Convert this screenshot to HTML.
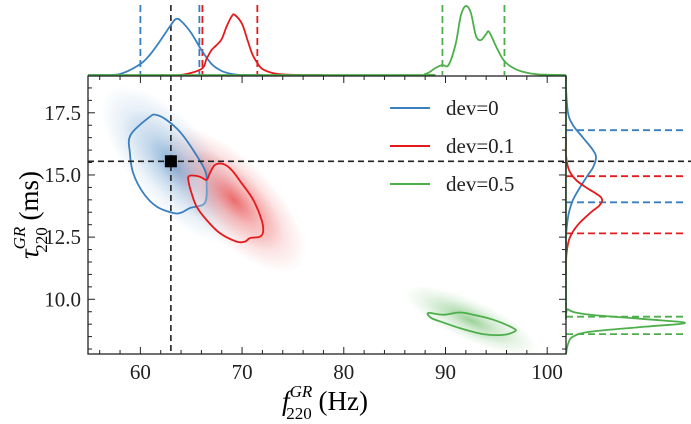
<!DOCTYPE html>
<html><head><meta charset="utf-8"><style>
body{margin:0;background:#fff;}
svg{display:block;font-family:"Liberation Serif",serif;}
</style></head><body>
<svg id="chart" width="691" height="424" viewBox="0 0 691 424" xmlns="http://www.w3.org/2000/svg">
<defs>
<radialGradient id="grad0"><stop offset="0" stop-color="#3a7fbf" stop-opacity="0.85"/><stop offset="0.35" stop-color="#3a7fbf" stop-opacity="0.4"/><stop offset="0.7" stop-color="#3a7fbf" stop-opacity="0.12"/><stop offset="1" stop-color="#3a7fbf" stop-opacity="0"/></radialGradient>
<radialGradient id="grad1"><stop offset="0" stop-color="#e41a1c" stop-opacity="0.85"/><stop offset="0.35" stop-color="#e41a1c" stop-opacity="0.4"/><stop offset="0.7" stop-color="#e41a1c" stop-opacity="0.12"/><stop offset="1" stop-color="#e41a1c" stop-opacity="0"/></radialGradient>
<radialGradient id="grad2"><stop offset="0" stop-color="#4daf4a" stop-opacity="0.75"/><stop offset="0.35" stop-color="#4daf4a" stop-opacity="0.35"/><stop offset="0.7" stop-color="#4daf4a" stop-opacity="0.12"/><stop offset="1" stop-color="#4daf4a" stop-opacity="0"/></radialGradient>
<clipPath id="plotclip"><rect x="88" y="76" width="478" height="278"/></clipPath>
</defs>
<g id="clouds" clip-path="url(#plotclip)"></g>
<g id="contours" clip-path="url(#plotclip)"></g>
<g id="guides"></g>
<g id="marg"></g>
<g id="axes"></g>
<g id="legend"></g>
<text x="325" y="410" font-size="27" text-anchor="middle"><tspan font-style="italic">f</tspan><tspan font-size="17" font-style="italic" dy="-13">GR</tspan><tspan font-size="17" dx="-26" dy="22">220</tspan><tspan dy="-9"> (Hz)</tspan></text>
<text transform="translate(38,215) rotate(-90)" font-size="27" text-anchor="middle"><tspan font-style="italic">τ</tspan><tspan font-size="17" font-style="italic" dy="-13">GR</tspan><tspan font-size="17" dx="-26" dy="22">220</tspan><tspan dy="-9"> (ms)</tspan></text>
</svg>
<script>
const NS="http://www.w3.org/2000/svg";
// ---- data ----
const seriesNames=["dev=0","dev=0.1","dev=0.5"];
const seriesColors=["#3a7fbf","#e41a1c","#4daf4a"];
const xTickVals=[60,70,80,90,100];
const yTickVals=[10.0,12.5,15.0,17.5];
const yTickLabels=["10.0","12.5","15.0","17.5"];
const injF=63.0, injTau=15.55;
// cloud summaries: center f, center tau, half-extent f, half-extent tau
const cloudF=[63.3,69.2,92.5];
const cloudTau=[15.4,14.0,9.15];
const cloudSdF=[6.5,6.5,6.5];
const cloudSdTau=[3.0,2.7,1.2];
// 90% contours (f,tau)
const contourBlueF=[59.04,60.93,61.59,62.58,63.88,65.19,66.34,66.51,66.34,64.87,64.05,63.23,61.59,60.28,59.29,58.97];
const contourBlueTau=[16.61,17.34,17.41,17.21,16.74,16.0,15.2,14.68,13.88,13.67,13.49,13.47,13.73,14.28,15.08,15.88];
const contourRedF=[64.80,65.85,66.51,66.83,67.33,68.14,68.97,69.95,71.09,71.92,72.07,71.75,70.77,70.28,69.46,67.82,66.51,65.53,65.03,64.74];
const contourRedTau=[14.96,14.93,14.80,15.07,15.40,15.44,15.20,14.67,14.0,13.19,12.72,12.52,12.46,12.32,12.32,12.66,13.19,13.73,14.27,14.73];
const contourGreenF=[88.30,89.77,91.41,92.72,94.69,96.66,96.82,95.67,93.71,91.41,89.77,88.63];
const contourGreenTau=[9.45,9.38,9.47,9.38,9.18,8.84,8.71,8.57,8.60,8.84,9.07,9.24];
// marginal KDEs over f
const kdeBlueFx=[54.85,56,58,60,61,62,63,63.5,64,65,66,67,68,69,70,72];
const kdeBlueFy=[0,0,0.01,0.11,0.21,0.35,0.5,0.56,0.54,0.42,0.25,0.11,0.04,0.01,0,0];
const kdeRedFx=[62,64,66,66.5,67,67.5,68,68.5,69,69.3,70,70.5,71,71.5,72,73,74,76,78];
const kdeRedFy=[0,0,0.06,0.16,0.25,0.3,0.36,0.49,0.59,0.6,0.51,0.36,0.21,0.12,0.06,0.02,0.006,0,0];
const kdeGreenFx=[54.85,86,88,89,89.7,90.3,91,91.5,92,92.5,93,93.5,94,94.3,95,95.7,96.5,97.5,99,101.85];
const kdeGreenFy=[0,0,0.01,0.07,0.1,0.1,0.31,0.59,0.69,0.62,0.39,0.35,0.41,0.43,0.28,0.15,0.08,0.035,0.007,0];
// marginal KDEs over tau
const kdeBlueTx=[19,18.5,17.5,17,16.5,16,15.7,15.3,15,14.5,14,13.5,13,12.5,12];
const kdeBlueTy=[0,0,0.02,0.07,0.17,0.27,0.30,0.27,0.22,0.14,0.07,0.03,0.01,0,0];
const kdeRedTx=[16.5,15.8,15.2,14.8,14.5,14.1,13.8,13.5,13,12.5,12,11.5,11];
const kdeRedTy=[0,0,0.03,0.1,0.2,0.35,0.34,0.25,0.12,0.04,0.01,0,0];
const kdeGreenTx=[18.98,10,9.6,9.4,9.2,9.05,8.9,8.7,8.5,8.2,7.8];
const kdeGreenTy=[0,0,0.02,0.2,0.8,1.19,0.8,0.25,0.07,0.02,0];
// 90% credible bounds
const boundsF=[[60.0,65.8],[66.1,71.5],[89.7,95.8]];
const boundsTau=[[16.8,13.9],[14.95,12.65],[9.3,8.6]];
// ---- scales ----
const X0=88,X1=566,Y0=76,Y1=354, xmin=54.85,xmax=101.85,ymin=7.8,ymax=18.98;
const sx=v=>X0+(v-xmin)/(xmax-xmin)*(X1-X0);
const sy=v=>Y1-(v-ymin)/(ymax-ymin)*(Y1-Y0);
const dTop=v=>75-v*100;
const dRight=v=>566+v*100;
function mk(tag,attrs,parent){const e=document.createElementNS(NS,tag);for(const k in attrs)e.setAttribute(k,attrs[k]);parent.appendChild(e);return e;}
const g=id=>document.getElementById(id);
function smooth(P,closed){
  const n=P.length;let d="M"+P[0][0]+","+P[0][1];
  const get=i=>closed?P[(i+n)%n]:P[Math.max(0,Math.min(n-1,i))];
  const last=closed?n:n-1;
  for(let i=0;i<last;i++){const p0=get(i-1),p1=get(i),p2=get(i+1),p3=get(i+2);
    const c1=[p1[0]+(p2[0]-p0[0])/6,p1[1]+(p2[1]-p0[1])/6];
    const c2=[p2[0]-(p3[0]-p1[0])/6,p2[1]-(p3[1]-p1[1])/6];
    d+=`C${c1[0]},${c1[1]} ${c2[0]},${c2[1]} ${p2[0]},${p2[1]}`;}
  return d+(closed?"Z":"");
}
// clouds
const cl=g("clouds");
for(let i=0;i<3;i++){
  const cx=sx(cloudF[i]),cy=sy(cloudTau[i]);
  const w=sx(cloudF[i]+cloudSdF[i])-cx, h=cy-sy(cloudTau[i]+cloudSdTau[i]);
  const ang=Math.atan2(h,w)*180/Math.PI;
  const major=Math.hypot(w,h), minor=major*(i===2?0.28:0.42);
  const e=mk("ellipse",{cx:cx,cy:cy,rx:major,ry:minor,fill:`url(#grad${i})`,transform:`rotate(${ang} ${cx} ${cy})`},cl);
  
  
}
// contours
const ct=g("contours");
[[contourBlueF,contourBlueTau],[contourRedF,contourRedTau],[contourGreenF,contourGreenTau]].forEach((c,i)=>{
  const P=c[0].map((f,j)=>[sx(f),sy(c[1][j])]);
  const p=mk("path",{d:smooth(P,true),fill:"#fff","fill-opacity":0.25,stroke:seriesColors[i],"stroke-width":1.8,"stroke-linejoin":"round"},ct);
  
  
});
// guides
const gd=g("guides");
const vline=mk("line",{x1:sx(injF),x2:sx(injF),y1:5,y2:Y1,stroke:"#222","stroke-width":1.6,"stroke-dasharray":"6,4"},gd);


const hline=mk("line",{x1:X0,x2:691,y1:sy(injTau),y2:sy(injTau),stroke:"#222","stroke-width":1.6,"stroke-dasharray":"6,4"},gd);


const sq=mk("rect",{x:sx(injF)-6,y:sy(injTau)-6,width:12,height:12,fill:"#000"},gd);


// marginals
const mg=g("marg");
const tops=[[kdeBlueFx,kdeBlueFy],[kdeRedFx,kdeRedFy],[kdeGreenFx,kdeGreenFy]];
const rights=[[kdeBlueTx,kdeBlueTy],[kdeRedTx,kdeRedTy],[kdeGreenTx,kdeGreenTy]];
for(let i=0;i<3;i++){
  boundsF[i].forEach(b=>{const l=mk("line",{x1:sx(b),x2:sx(b),y1:5,y2:75,stroke:seriesColors[i],"stroke-width":1.8,"stroke-dasharray":"7,4"},mg);
    
    });
  boundsTau[i].forEach(b=>{const l=mk("line",{x1:566,x2:685,y1:sy(b),y2:sy(b),stroke:seriesColors[i],"stroke-width":1.8,"stroke-dasharray":"7,4"},mg);
    
    });
}
for(let i=0;i<3;i++){
  const t=tops[i];
  const P=t[0].map((f,j)=>[sx(f),dTop(t[1][j])]);
  const pl=mk("path",{d:smooth(P,false),fill:"none",stroke:seriesColors[i],"stroke-width":1.8,"stroke-linejoin":"round"},mg);
  
  
  const r=rights[i];
  const P2=r[0].map((v,j)=>[dRight(r[1][j]),sy(v)]);
  const pr=mk("path",{d:smooth(P2,false),fill:"none",stroke:seriesColors[i],"stroke-width":1.8,"stroke-linejoin":"round"},mg);
  
  
}
// axes
const ax=g("axes");
const frame=mk("rect",{x:X0,y:Y0,width:X1-X0,height:Y1-Y0,fill:"none",stroke:"#222","stroke-width":1.3},ax);


for(let v=56;v<=101;v+=2){const major=v%10===0;const L=major?7:4;
  mk("line",{x1:sx(v),x2:sx(v),y1:Y1,y2:Y1-L,stroke:"#222","stroke-width":1},ax);
  mk("line",{x1:sx(v),x2:sx(v),y1:Y0,y2:Y0+L,stroke:"#222","stroke-width":1},ax);}
for(let v=8;v<=18.9;v+=0.5){const major=Math.abs((v/2.5)-Math.round(v/2.5))<1e-6;const L=major?7:4;
  mk("line",{x1:X0,x2:X0+L,y1:sy(v),y2:sy(v),stroke:"#222","stroke-width":1},ax);
  mk("line",{x1:X1,x2:X1-L,y1:sy(v),y2:sy(v),stroke:"#222","stroke-width":1},ax);}
xTickVals.forEach(v=>{const t=mk("text",{x:sx(v),y:379,"font-size":21,"text-anchor":"middle",fill:"#222"},ax);t.textContent=v;
  
  });
yTickVals.forEach((v,i)=>{const t=mk("text",{x:81,y:sy(v)+7,"font-size":21,"text-anchor":"end",fill:"#222"},ax);t.textContent=yTickLabels[i];
  
  });
// legend
const lg=g("legend");
seriesNames.forEach((n,i)=>{const y=108+i*38;
  const l=mk("line",{x1:390,x2:430,y1:y,y2:y,stroke:seriesColors[i],"stroke-width":2},lg);
  
  
  const t=mk("text",{x:446,y:y+7,"font-size":21,fill:"#222"},lg);t.textContent=n;
  
  });
</script>
</body></html>
